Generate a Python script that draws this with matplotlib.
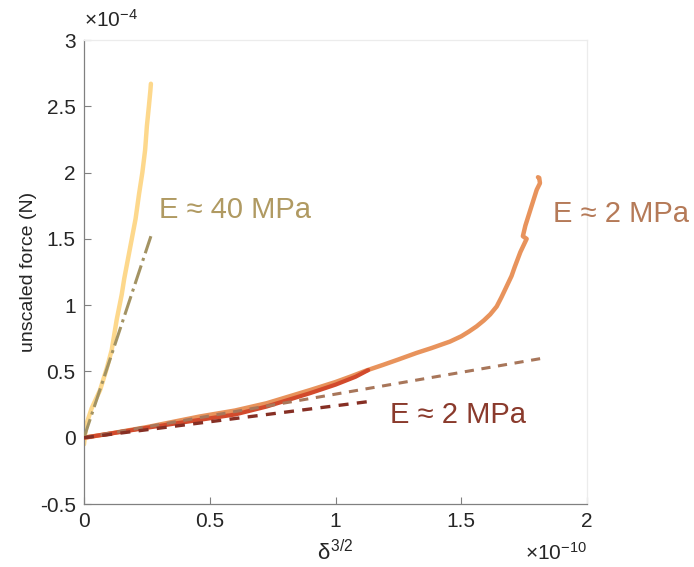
import matplotlib
matplotlib.use("Agg")
import matplotlib.pyplot as plt

plt.rcParams['font.family'] = ['Liberation Sans', 'DejaVu Sans']
plt.rcParams['mathtext.fontset'] = 'custom'
plt.rcParams['mathtext.rm'] = 'Liberation Sans'
plt.rcParams['mathtext.it'] = 'Liberation Sans'

# units: x in 1e-10 (delta^{3/2}), y in 1e-4 N
stiff_x = [0.0, 0.005, 0.011, 0.03, 0.064, 0.09, 0.11, 0.13, 0.15, 0.16, 0.167,
           0.175, 0.19, 0.205, 0.219, 0.232, 0.243, 0.245, 0.25, 0.258, 0.264, 0.266]
stiff_y = [-0.05, 0.03, 0.11, 0.22, 0.36, 0.52, 0.66, 0.89, 1.08, 1.2, 1.27,
           1.35, 1.5, 1.65, 1.84, 2.0, 2.17, 2.22, 2.35, 2.5, 2.62, 2.67]
stiff_fit_x = [0.0, 0.266]
stiff_fit_y = [0.0, 1.52]

soft2_x = [0.0, 0.1, 0.25, 0.46, 0.6, 0.726, 0.9, 1.0, 1.058, 1.12, 1.19, 1.25,
           1.323, 1.38, 1.455, 1.50, 1.53, 1.561, 1.59, 1.615, 1.641, 1.66, 1.68,
           1.70, 1.713, 1.725, 1.735, 1.76, 1.745, 1.755, 1.78, 1.80, 1.813,
           1.81, 1.805]
soft2_y = [0.0, 0.03, 0.08, 0.16, 0.205, 0.26, 0.36, 0.42, 0.46, 0.505, 0.55, 0.59,
           0.64, 0.675, 0.725, 0.765, 0.80, 0.84, 0.885, 0.93, 0.99, 1.06, 1.14,
           1.22, 1.29, 1.35, 1.40, 1.50, 1.52, 1.60, 1.75, 1.87, 1.92,
           1.96, 1.965]
soft2_fit_x = [0.0, 1.825]
soft2_fit_y = [0.0, 0.60]

soft1_x = [0.0, 0.1, 0.25, 0.461, 0.6, 0.726, 0.899, 1.0, 1.08, 1.13]
soft1_y = [0.0, 0.03, 0.075, 0.135, 0.175, 0.235, 0.336, 0.40, 0.46, 0.51]
soft1_fit_x = [0.0, 1.133]
soft1_fit_y = [0.0, 0.273]

xticks = [0, 0.5, 1, 1.5, 2]
yticks = [-0.5, 0, 0.5, 1, 1.5, 2, 2.5, 3]
xtick_labels = ['0', '0.5', '1', '1.5', '2']
ytick_labels = ['-0.5', '0', '0.5', '1', '1.5', '2', '2.5', '3']

fig = plt.figure(figsize=(6.94, 5.67), dpi=100)
ax = fig.add_axes([84/694, 63/567, 503/694, 464/567])

ax.plot(soft2_x, soft2_y, color='#e8935c', lw=3.2, solid_capstyle='round',
        solid_joinstyle='round', zorder=2)
ax.plot(soft1_x, soft1_y, color='#d24a2c', lw=3.0, solid_capstyle='round',
        solid_joinstyle='round', zorder=3)
ax.plot(stiff_x, stiff_y, color='#fdd88c', lw=3.2, solid_capstyle='round',
        solid_joinstyle='round', zorder=2)
ax.plot(stiff_fit_x, stiff_fit_y, color='#a39363', lw=2.2, ls='-.', zorder=4)
ax.plot(soft2_fit_x, soft2_fit_y, color='#a8765a', lw=2.2, ls=(0, (3, 2.5)), zorder=4)
ax.plot(soft1_fit_x, soft1_fit_y, color='#862f24', lw=2.4, ls=(0, (3, 2.5)), zorder=4)

ax.set_xlim(0, 2)
ax.set_ylim(-0.5, 3)
ax.set_xticks(xticks)
ax.set_xticklabels(xtick_labels)
ax.set_yticks(yticks)
ax.set_yticklabels(ytick_labels)
ax.tick_params(direction='in', length=5, width=0.8, color='#808080',
               labelsize=15, labelcolor='#262626', pad=6)
for s in ['left', 'bottom']:
    ax.spines[s].set_color('#808080')
    ax.spines[s].set_linewidth(0.9)
for s in ['top', 'right']:
    ax.spines[s].set_color('#ececec')
    ax.spines[s].set_linewidth(0.9)

ax.set_ylabel('unscaled force (N)', fontsize=14, color='#262626', labelpad=2)
ax.set_xlabel(r'$\delta^{3/2}$', fontsize=16, color='#262626', labelpad=6)

fig.text(84/694, 1 - 20/567, r'$\times10^{-4}$', fontsize=15, color='#262626',
         ha='left', va='center')
fig.text(587/694, 1 - 553/567, r'$\times10^{-10}$', fontsize=15, color='#262626',
         ha='right', va='center')

ax.text(0.30, 1.72, 'E ≈ 40 MPa', fontsize=21, color='#b09a62', ha='left', va='center')
ax.text(1.865, 1.69, 'E ≈ 2 MPa', fontsize=21, color='#b57a58', ha='left', va='center')
ax.text(1.215, 0.17, 'E ≈ 2 MPa', fontsize=21, color='#8a3a2c', ha='left', va='center')

fig.savefig('out.png', dpi=100)
